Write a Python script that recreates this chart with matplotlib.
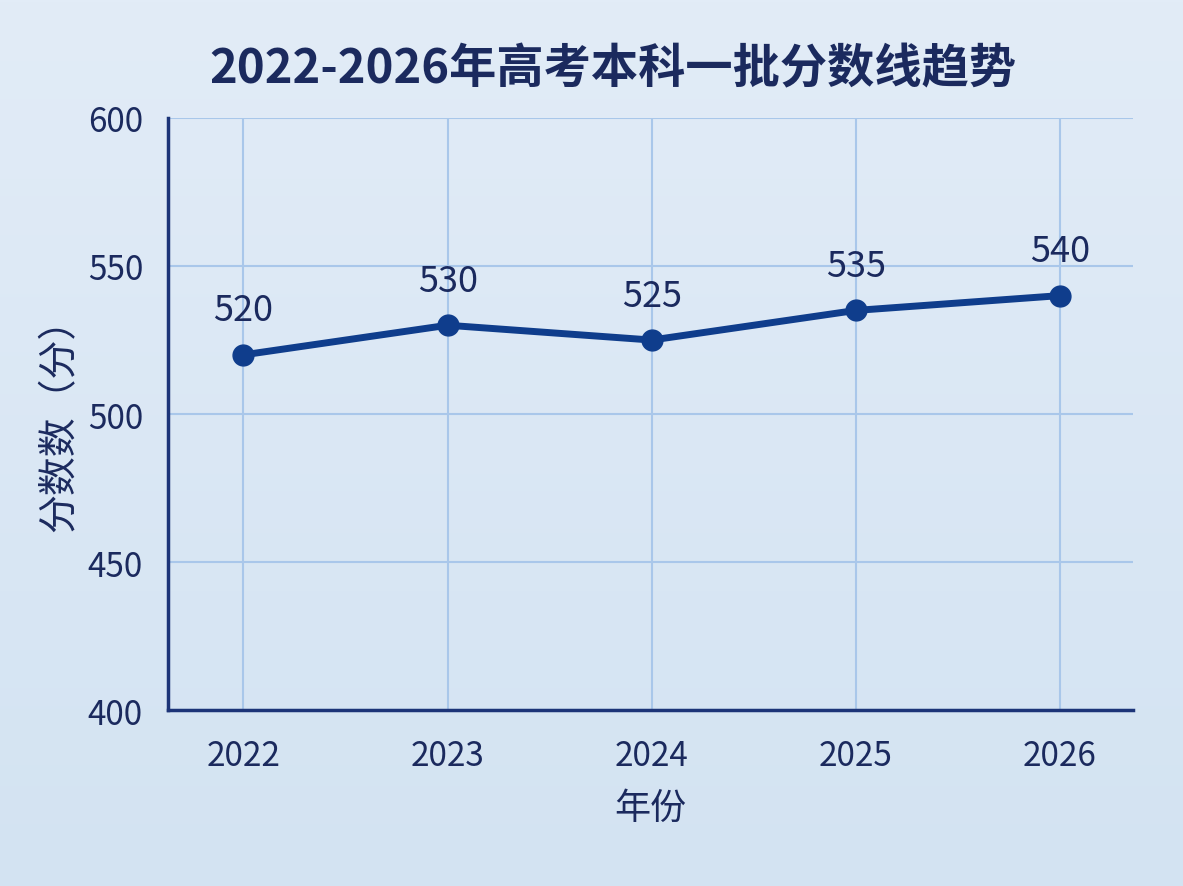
import matplotlib.pyplot as plt
import numpy as np

plt.rcParams['font.family'] = ['Noto Sans CJK SC', 'DejaVu Sans']

years = [2022, 2023, 2024, 2025, 2026]
scores = [520, 530, 525, 535, 540]
yticks = [400, 450, 500, 550, 600]

navy = '#1b2a5e'
line_col = '#0f3d8c'
bg = '#dae6f3'

fig = plt.figure(figsize=(11.83, 8.87), dpi=100, facecolor=bg)
ax = fig.add_axes([0.142, 0.198, 0.816, 0.668])

# soft gradient behind everything
grad = np.linspace(0, 1, 256).reshape(-1, 1)
bgax = fig.add_axes([0, 0, 1, 1], zorder=-10)
bgax.imshow(grad, aspect='auto', cmap=plt.matplotlib.colors.LinearSegmentedColormap.from_list(
    'bg', ['#e2ecf7', '#d3e3f2']), extent=[0, 1, 0, 1])
bgax.axis('off')
ax.patch.set_alpha(0)

ax.plot(years, scores, color=line_col, lw=5, marker='o', ms=15, zorder=3)
for x, y in zip(years, scores):
    ax.annotate(str(y), (x, y), xytext=(0, 19), textcoords='offset points',
                ha='center', va='bottom', fontsize=26, color=navy)

ax.set_xlim(2021.63, 2026.36)
ax.set_ylim(400, 600)
ax.set_xticks(years)
ax.set_yticks(yticks)
ax.grid(True, color='#a9c7ea', lw=1.5)
ax.set_axisbelow(True)
ax.tick_params(length=0, labelsize=24, labelcolor=navy)
ax.tick_params(axis='y', pad=18)
ax.tick_params(axis='x', pad=20)
for s in ['top', 'right']:
    ax.spines[s].set_visible(False)
for s in ['left', 'bottom']:
    ax.spines[s].set_color('#1c3478')
    ax.spines[s].set_linewidth(2.5)

ax.set_xlabel('年份', fontsize=26, color=navy, labelpad=12)
ax.set_ylabel('分数数（分）', fontsize=28, color=navy, labelpad=6)
fig.text(0.518, 0.922, '2022-2026年高考本科一批分数线趋势', ha='center', va='center',
         fontsize=34, fontweight='bold', color=navy)

fig.savefig('out.png', dpi=100, facecolor=bg)
